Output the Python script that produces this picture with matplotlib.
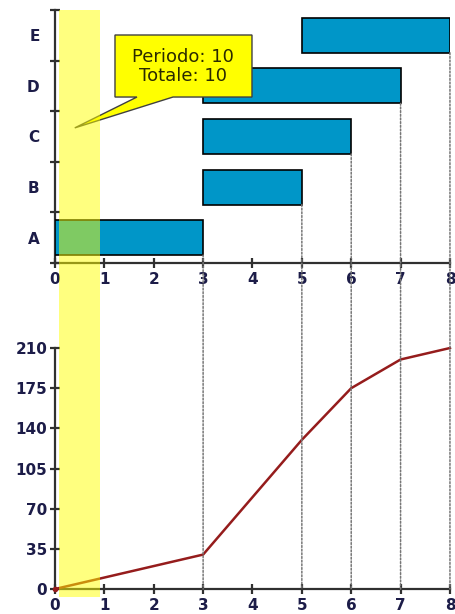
import matplotlib.pyplot as plt
from matplotlib.patches import Rectangle, Polygon, ConnectionPatch
from matplotlib.transforms import blended_transform_factory

# attivita' del progetto: inizio e durata
tasks     = ["A", "B", "C", "D", "E"]
starts    = [0, 3, 3, 3, 5]
durations = [3, 2, 3, 4, 3]

# curva cumulata delle risorse per periodo
periods    = [0, 1, 2, 3, 4, 5, 6, 7, 8]
cumulative = [0, 10, 20, 30, 80, 130, 175, 200, 210]
y_ticks    = [0, 35, 70, 105, 140, 175, 210]

sel_period = (0.08, 0.91)   # periodo evidenziato

BAR = "#0096c8"
LINE = "#951c1c"
LBL = "#1c1c48"
GRID = "#777777"
HL = "#ffff00"
DOTS = (0, (1.2, 1.2))

fig = plt.figure(figsize=(4.55, 6.14), dpi=100)
ax1 = fig.add_axes([0.1209, 0.5717, 0.868, 0.412])
ax2 = fig.add_axes([0.1209, 0.0407, 0.868, 0.3925])

for ax in (ax1, ax2):
    ax.spines["top"].set_visible(False)
    ax.spines["right"].set_visible(False)
    for s in ("left", "bottom"):
        ax.spines[s].set_linewidth(1.6)
        ax.spines[s].set_color("#303030")
    ax.set_xlim(0, 8)
    ax.set_xticks(periods)
    ax.tick_params(axis="both", direction="inout", length=7, width=1.6,
                   color="#303030", labelcolor=LBL, labelsize=11)
    for lab in ax.get_xticklabels() + ax.get_yticklabels():
        lab.set_fontweight("bold")
    ax.tick_params(axis="x", pad=3)
    ax.set_facecolor("none")

# --- Gantt ---
ypos = list(range(len(tasks)))
bar_h = 0.69
ax1.barh(ypos, durations, left=starts, height=bar_h, color=BAR,
         edgecolor="black", linewidth=1.2, zorder=3)
ax1.set_ylim(-0.5, len(tasks) - 0.5)
ax1.set_yticks(ypos)
ax1.set_yticklabels(tasks, fontweight="bold")
ax1.set_yticks([y - 0.5 for y in ypos] + [len(tasks) - 0.5], minor=True)
ax1.tick_params(axis="y", which="major", length=0, pad=11)
ax1.tick_params(axis="y", which="minor", direction="inout", length=7,
                width=1.6, color="#303030")

# linee tratteggiate: dalla fine (o inizio) delle attivita' fino all'asse
# del grafico cumulato
marks = {}
for i, (s, d) in enumerate(zip(starts, durations)):
    for x in (s, s + d):
        if x > 0:
            marks[x] = min(marks.get(x, 99), i - bar_h / 2)
for x, ytop in marks.items():
    con = ConnectionPatch(xyA=(x, ytop), coordsA=ax1.transData,
                          xyB=(x, 0), coordsB=ax2.transData,
                          color=GRID, linestyle=DOTS, linewidth=1.1,
                          zorder=0.5)
    fig.add_artist(con)

# callout del periodo selezionato
inc = cumulative[1] - cumulative[0]
call = Polygon([(1.215, 4.006), (3.99, 4.006), (3.99, 2.78), (2.39, 2.78),
                (0.4, 2.17), (1.66, 2.78), (1.215, 2.78)], closed=True,
               fc=HL, ec="#404040", lw=1, zorder=6, clip_on=False)
ax1.add_patch(call)
ax1.text(2.6, 3.39, f"Periodo: {inc}\nTotale: {cumulative[1]}",
         ha="center", va="center", fontsize=13, color="#2a2a00",
         linespacing=1.05, zorder=7)

# --- curva cumulata ---
ax2.plot(periods, cumulative, color=LINE, linewidth=1.8, zorder=5,
         clip_on=False)
ax2.plot(periods[0], cumulative[0], "o", color=LINE, ms=3, zorder=6,
         clip_on=False)
ax2.set_ylim(0, 210)
ax2.set_yticks(y_ticks)
for lab in ax2.get_yticklabels():
    lab.set_fontweight("bold")
ax2.tick_params(axis="y", pad=2)

# banda gialla che attraversa entrambi i grafici
tr = blended_transform_factory(ax2.transData, fig.transFigure)
band = Rectangle((sel_period[0], 17 / 614), sel_period[1] - sel_period[0],
                 587 / 614, transform=tr, color=HL, alpha=0.5, lw=0,
                 zorder=1)
fig.add_artist(band)

fig.savefig("out.png", dpi=100)
